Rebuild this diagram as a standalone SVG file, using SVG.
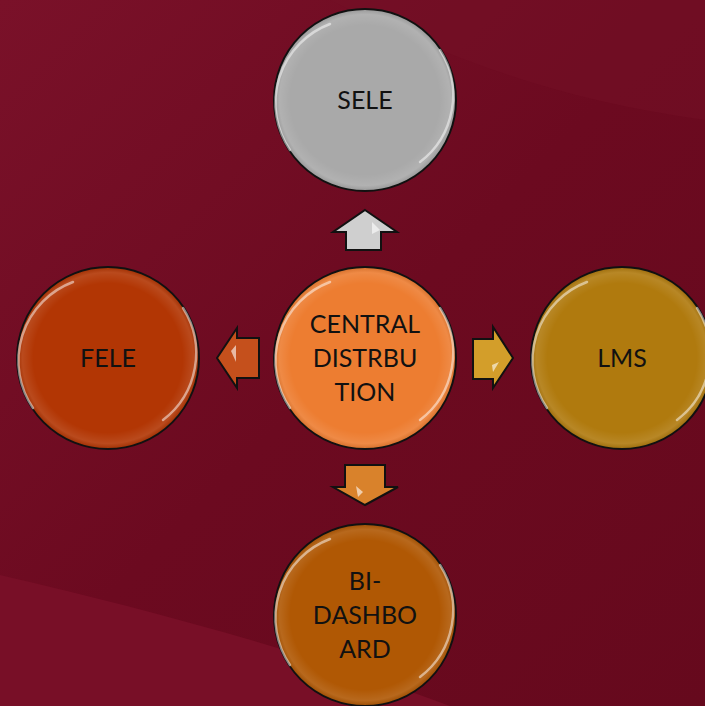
<svg xmlns="http://www.w3.org/2000/svg" width="705" height="706" viewBox="0 0 705 706">
<defs>
<linearGradient id="bg" x1="0" y1="0" x2="1" y2="1">
<stop offset="0" stop-color="#7a1129"/>
<stop offset="0.5" stop-color="#6c0a20"/>
<stop offset="1" stop-color="#66091d"/>
</linearGradient>
<radialGradient id="gloss" cx="0.5" cy="0.5" r="0.5">
<stop offset="0.82" stop-color="#fff" stop-opacity="0"/>
<stop offset="0.94" stop-color="#fff" stop-opacity="0.1"/>
<stop offset="1" stop-color="#000" stop-opacity="0.1"/>
</radialGradient>
</defs>
<style>
.node{stroke:#111;stroke-width:2}
.rim{fill:none;stroke:#fff;stroke-opacity:0.5;stroke-width:2.5;stroke-linecap:round}
.lbl{font-family:Lato,"Open Sans","Liberation Sans",sans-serif;font-size:25px;fill:#111;text-anchor:middle}
.arr{stroke:#111;stroke-width:2;stroke-linejoin:miter}
.hl{fill:#fff;fill-opacity:0.6}
</style>
<rect width="705" height="706" fill="url(#bg)"/>
<path d="M0 575 C150 610 300 650 450 706 L0 706 Z" fill="#780f27"/>
<path d="M330 0 C450 60 560 100 705 120 L705 0 Z" fill="#731026" opacity="0.5"/>

<g id="connectors">
<path class="arr" d="M365 210 L397 232 L381 232 L381 250 L346 250 L346 232 L333 232 Z" fill="#cfcfcf"/>
<path class="hl" d="M372 222 L380 230 L372 234 Z"/>
<path class="arr" d="M217 358 L237 328 L237 338 L259 338 L259 378 L237 378 L237 388 Z" fill="#c5501c"/>
<path class="hl" d="M231 351 L236 345 L236 362 Z"/>
<path class="arr" d="M513 358 L493 327 L493 339 L473 339 L473 379 L493 379 L493 388 Z" fill="#d39e2a"/>
<path class="hl" d="M492 365 L499 362 L493 372 Z"/>
<path class="arr" d="M365 505 L398 487 L385 487 L385 465 L345 465 L345 487 L333 487 Z" fill="#d9822b"/>
<path class="hl" d="M356 486 L363 492 L358 497 Z"/>
</g>

<g id="sele">
<circle class="node" cx="365" cy="100" r="91" fill="#a9a9a9"/>
<circle cx="365" cy="100" r="91" fill="url(#gloss)"/>
<path class="rim" d="M290 150 A84 84 0 0 1 330 24"/>
<path class="rim" d="M440 50 A84 84 0 0 1 420 162"/>
<text class="lbl" x="365" y="109">SELE</text>
</g>

<g id="central">
<circle class="node" cx="365" cy="358" r="91" fill="#ed7d31"/>
<circle cx="365" cy="358" r="91" fill="url(#gloss)"/>
<path class="rim" d="M290 408 A84 84 0 0 1 330 282"/>
<path class="rim" d="M440 308 A84 84 0 0 1 420 420"/>
<text class="lbl" x="365" y="333">CENTRAL</text>
<text class="lbl" x="365" y="367">DISTRBU</text>
<text class="lbl" x="365" y="401">TION</text>
</g>

<g id="fele">
<circle class="node" cx="108" cy="358" r="91" fill="#b23604"/>
<circle cx="108" cy="358" r="91" fill="url(#gloss)"/>
<path class="rim" d="M33 408 A84 84 0 0 1 73 282"/>
<path class="rim" d="M183 308 A84 84 0 0 1 163 420"/>
<text class="lbl" x="108" y="367">FELE</text>
</g>

<g id="lms">
<circle class="node" cx="622" cy="358" r="91" fill="#b07a0e"/>
<circle cx="622" cy="358" r="91" fill="url(#gloss)"/>
<path class="rim" d="M547 408 A84 84 0 0 1 587 282"/>
<path class="rim" d="M697 308 A84 84 0 0 1 677 420"/>
<text class="lbl" x="622" y="367">LMS</text>
</g>

<g id="bi">
<circle class="node" cx="365" cy="615" r="91" fill="#b05804"/>
<circle cx="365" cy="615" r="91" fill="url(#gloss)"/>
<path class="rim" d="M290 665 A84 84 0 0 1 330 539"/>
<path class="rim" d="M440 565 A84 84 0 0 1 420 677"/>
<text class="lbl" x="365" y="590">BI-</text>
<text class="lbl" x="365" y="624">DASHBO</text>
<text class="lbl" x="365" y="658">ARD</text>
</g>
</svg>
